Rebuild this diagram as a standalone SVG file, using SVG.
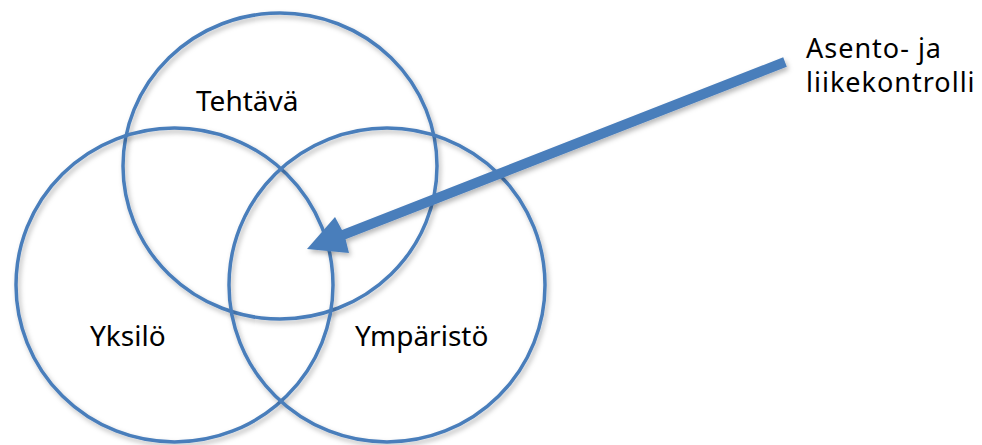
<svg xmlns="http://www.w3.org/2000/svg" width="982" height="445" viewBox="0 0 982 445">
  <defs>
    <filter id="shadow" x="-10%" y="-10%" width="130%" height="130%">
      <feDropShadow dx="2" dy="3" stdDeviation="2.5" flood-color="#000" flood-opacity="0.28"/>
    </filter>
    <style>
      .ring { fill: none; stroke: #4A7EBB; stroke-width: 3.5; filter: url(#shadow); }
      .label { font-family: "Noto Sans", "DejaVu Sans", sans-serif; font-size: 28px; fill: #000; }
      .note { font-family: "Noto Sans", "DejaVu Sans", sans-serif; font-size: 27px; letter-spacing: 1px; fill: #000; }
      .arrow { fill: #4A7EBB; stroke: none; filter: url(#shadow); }
    </style>
  </defs>
  <rect width="982" height="445" fill="#fff"/>

  <g id="tehtava">
    <ellipse class="ring" cx="280" cy="166" rx="157" ry="153"/>
    <text class="label" x="196" y="111">Tehtävä</text>
  </g>
  <g id="yksilo">
    <ellipse class="ring" cx="174.5" cy="285" rx="158.5" ry="157"/>
    <text class="label" x="90" y="346">Yksilö</text>
  </g>
  <g id="ymparisto">
    <ellipse class="ring" cx="387" cy="285" rx="158" ry="157"/>
    <text class="label" x="355" y="346">Ympäristö</text>
  </g>
  <g id="asento">
    <text class="note" x="806" y="58">Asento- ja</text>
    <text class="note" x="806" y="92">liikekontrolli</text>
  </g>

  <g id="connectors">
    <!-- thick arrow pointing into the shared centre -->
    <path class="arrow" d="M 783.2 57.3 L 786.8 66.7 L 345.6 239.3 L 349 253 L 307 249 L 335 217 L 342 229.9 Z"/>
  </g>
</svg>
